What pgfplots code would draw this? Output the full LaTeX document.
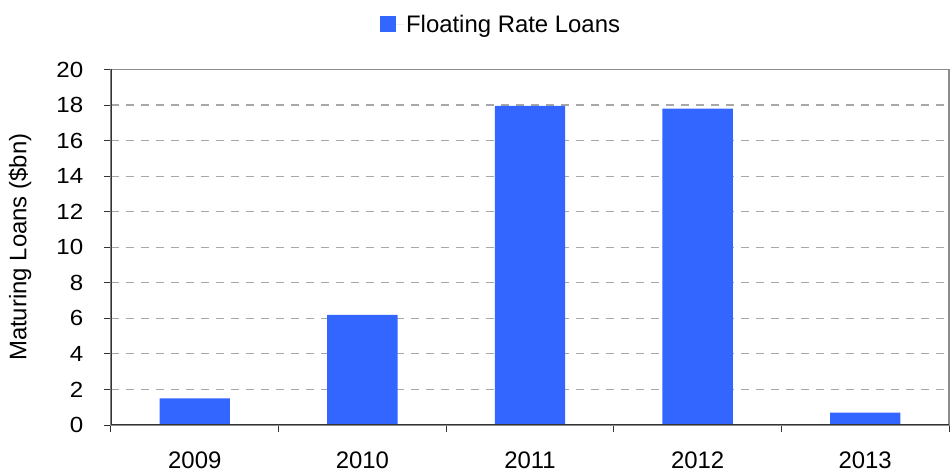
\documentclass[border=0pt]{standalone}
\usepackage{fontspec}
\setmainfont{Liberation Sans}
\usepackage{graphicx}
\usepackage{pgfplots}
\pgfplotsset{compat=1.18}
\definecolor{barblue}{HTML}{3366FF}
\definecolor{gridgray}{HTML}{A8A8A8}
\definecolor{boxgray}{HTML}{8C8C8C}
\definecolor{axdark}{HTML}{333333}
\begin{document}
\begin{tikzpicture}
\begin{axis}[
  at={(0,0)}, anchor=south west,
  scale only axis, width=838bp, height=355.5bp,
  xmin=-0.5, xmax=4.5, ymin=0, ymax=20,
  ytick={0,2,...,20},
  xtick={-0.5,0.5,1.5,2.5,3.5,4.5},
  xticklabels={},
  extra x ticks={0,1,2,3,4},
  extra x tick labels={2009,2010,2011,2012,2013},
  extra x tick style={major tick length=0pt, grid=none},
  tick align=outside, tick pos=left,
  major tick length=6.5bp,
  tick style={axdark, line width=1bp},
  ymajorgrids,
  major grid style={gridgray, dash pattern=on 8bp off 7bp, line width=1.2bp},
  axis line style={boxgray, line width=1.8bp},
  /pgf/number format/assume math mode=true,
  yticklabel={\scalebox{1.1}[1]{\pgfmathprintnumber{\tick}}},
  yticklabel style={font=\fontsize{22}{22}\selectfont, inner sep=0pt, anchor=east, xshift=-21bp},
  xticklabel style={font=\fontsize{24}{24}\selectfont, inner sep=0pt, anchor=north, yshift=-27bp},
  ylabel={Maturing Loans (\$bn)},
  ylabel style={at={(axis description cs:-0.1086,0.5)}, anchor=center, font=\fontsize{24}{24}\selectfont},
  legend style={at={(axis description cs:0.4655,1.1266)}, anchor=center, draw=none, fill=none,
    font=\fontsize{24}{24}\selectfont, inner sep=0pt},
  ybar, bar width=0.42,
]
\addplot[fill=barblue, draw=none,
  legend image code/.code={\fill[barblue] (0bp,-8bp) rectangle (16bp,8bp); \path (0bp,0bp) -- (24bp,0bp);}]
  coordinates {(0,1.5) (1,6.2) (2,17.95) (3,17.8) (4,0.7)};
\addlegendentry{Floating Rate Loans}
\draw[axdark, line width=1.3bp] (rel axis cs:0,1) -- (rel axis cs:0,0) -- (rel axis cs:1,0);
\end{axis}
\pgfresetboundingbox
\path[use as bounding box] (-111bp,-47bp) rectangle (840bp,425bp);
\end{tikzpicture}
\end{document}
